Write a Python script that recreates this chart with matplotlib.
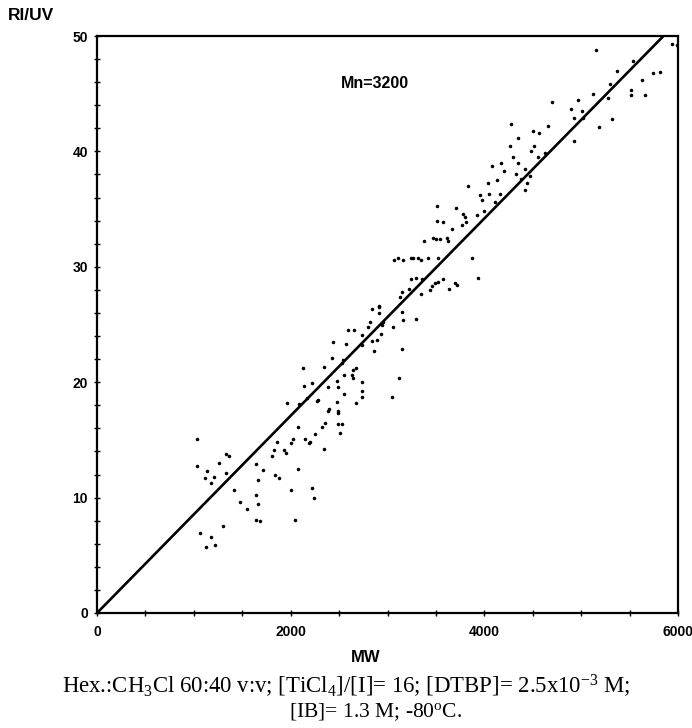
import matplotlib
matplotlib.use("Agg")
import matplotlib.pyplot as plt
import numpy as np

plt.rcParams['mathtext.fontset'] = 'custom'
plt.rcParams['mathtext.rm'] = 'Liberation Serif'
plt.rcParams['mathtext.it'] = 'Liberation Serif:italic'

mw = [
    1029, 1029, 1140, 1119, 1174, 1212, 1264, 1329, 1367, 1336, 1419, 1474, 1553,
    1640, 1660, 1715, 1640, 1660, 1643, 1680, 1305, 1067, 1178, 1123, 1216, 1804,
    1860, 1832, 1842, 1877, 1966,
    2841, 2910, 2820, 2796, 2741, 2590, 2658, 2734, 2569, 2441, 2844, 2889, 2858,
    2423, 2527, 2540, 2348, 2131, 2645, 2672, 2630, 2648, 2552, 2476, 2741, 2741,
    2741, 2386, 2493, 2221, 2135, 2552, 2283, 2270, 2166, 2083, 2476, 2400, 2390,
    2493, 2493, 2672, 2352, 2328, 2493, 2527, 2507, 2255, 2076, 2028, 2004, 2149,
    2200, 2190, 2345, 1935, 1950, 2073, 2004, 2221, 2238, 2042,
    4294, 4346, 4421, 4205, 4170, 4077, 4129, 4036, 4329, 4380, 4439, 4421, 3836,
    3957, 3973, 4053, 4163, 4112, 4001, 3926, 3509, 3709, 3509, 3577, 3784, 3800,
    3812, 3771, 3664, 3381, 3474, 3500, 3543, 3612, 3629, 3071, 3110, 3164, 3244,
    3268, 3319, 3347, 3416, 3526, 3870, 3939, 3240, 3295, 3354, 3492, 3526, 3577,
    3457, 3440, 3640, 3698, 3715, 3227, 3347, 3147, 3130, 2917, 2917, 3147, 2958,
    2940, 3164, 3291, 2930, 3054, 3147, 3123, 3050,
    5155, 5937, 5990, 5534, 5369, 5737, 5809, 5626, 5300, 5513, 5517, 5658, 5127,
    5272, 4966, 4697, 4897, 5007, 4931, 5017, 5317, 5183, 4931, 4277, 4500, 4569,
    4659, 4349, 4260, 4515, 4480, 4552, 4628, 4473,
]
ri_uv = [
    15.05, 12.74, 12.3, 11.67, 11.3, 11.8, 13.0, 13.8, 13.6, 12.1, 10.7, 9.65, 9.0,
    12.9, 11.5, 12.4, 10.2, 9.45, 8.1, 7.95, 7.54, 6.9, 6.6, 5.7, 5.9, 13.6,
    14.85, 14.1, 12.0, 11.7, 18.2,
    26.3, 26.6, 25.2, 24.8, 24.1, 24.5, 24.5, 23.2, 23.3, 23.5, 23.6, 23.7, 22.7,
    22.1, 21.7, 21.9, 21.3, 21.2, 21.1, 21.2, 20.6, 20.4, 20.6, 20.1, 20.0, 19.2,
    18.7, 19.6, 19.6, 19.97, 19.7, 19.0, 18.5, 18.35, 18.6, 18.1, 18.3, 17.7, 17.5,
    17.5, 17.3, 18.2, 16.5, 16.1, 16.4, 16.4, 15.6, 15.5, 16.1, 15.1, 14.7, 15.1,
    14.85, 14.7, 14.2, 14.1, 13.9, 12.5, 10.7, 10.8, 10.0, 8.1,
    39.5, 39.0, 38.5, 38.3, 39.0, 38.7, 37.5, 37.3, 38.0, 37.6, 37.3, 36.65, 37.0,
    36.2, 35.8, 36.3, 36.3, 35.6, 34.8, 34.5, 35.3, 35.1, 34.0, 33.9, 34.6, 34.3,
    33.9, 33.6, 33.3, 32.2, 32.5, 32.4, 32.4, 32.5, 32.2, 30.6, 30.8, 30.6, 30.8,
    30.8, 30.8, 30.6, 30.8, 30.8, 30.8, 29.0, 28.9, 29.0, 28.9, 28.6, 28.7, 28.9,
    28.3, 28.0, 28.1, 28.6, 28.4, 28.1, 27.6, 27.8, 27.4, 26.5, 26.0, 26.1, 25.2,
    25.0, 25.4, 25.5, 24.2, 24.8, 22.85, 20.4, 18.75,
    48.8, 49.3, 49.2, 47.8, 47.0, 46.8, 46.9, 46.2, 45.8, 45.3, 44.85, 44.85, 45.0,
    44.6, 44.45, 44.3, 43.7, 43.5, 42.9, 42.9, 42.8, 42.1, 40.9, 42.4, 41.8, 41.6,
    42.2, 41.2, 40.5, 40.5, 40.0, 39.5, 39.9, 37.9,
]
fit_x = [0, 5850]
fit_y = [0, 50]

x_ticks_labeled = [0, 2000, 4000, 6000]
y_ticks_labeled = [0, 10, 20, 30, 40, 50]

W, H = 692, 728
fig = plt.figure(figsize=(W / 100, H / 100), dpi=100)
ax = fig.add_axes([97 / W, 1 - 613 / H, (678 - 97) / W, (613 - 36) / H])

ax.scatter(mw, ri_uv, s=6.5, c='black', linewidths=0, zorder=3)
ax.plot(fit_x, fit_y, color='black', lw=1.9, zorder=2)

ax.set_xlim(0, 6000)
ax.set_ylim(0, 50)
ax.set_xticks(np.arange(0, 6001, 500))
ax.set_xticklabels([str(v) if v in x_ticks_labeled else '' for v in range(0, 6001, 500)])
ax.set_yticks(np.arange(0, 51, 2))
ax.set_yticklabels([str(v) if v in y_ticks_labeled else '' for v in range(0, 51, 2)])
ax.tick_params(direction='inout', length=5, width=1.0, pad=4,
               labelsize=10, top=False, right=False)
ax.tick_params(axis='x', pad=6)
for lab in ax.get_xticklabels() + ax.get_yticklabels():
    lab.set_fontweight('bold')
    lab.set_family('Liberation Sans')
for sp in ax.spines.values():
    sp.set_linewidth(1.6)

ax.text(2870, 45.9, 'Mn=3200', fontsize=11.5, fontweight='bold',
        family='Liberation Sans', ha='center', va='center')

fig.text(8 / W, 1 - 16 / H, 'RI/UV', fontsize=12.5, fontweight='bold',
         family='Liberation Sans', ha='left', va='center')
fig.text(366 / W, 1 - 657 / H, 'MW', fontsize=12, fontweight='bold',
         family='Liberation Sans', ha='center', va='center')

fig.text(346 / W, 1 - 686 / H,
         r'Hex.:CH$_{3}$Cl 60:40 v:v; [TiCl$_{4}$]/[I]= 16; [DTBP]= 2.5x10$^{\mathrm{-3}}$ M;',
         fontsize=16.4, family='Liberation Serif', ha='center', va='center')
fig.text(376 / W, 1 - 712 / H, r'[IB]= 1.3 M; -80$^{\mathrm{o}}$C.',
         fontsize=15.5, family='Liberation Serif', ha='center', va='center')

fig.savefig('out.png', dpi=100)
